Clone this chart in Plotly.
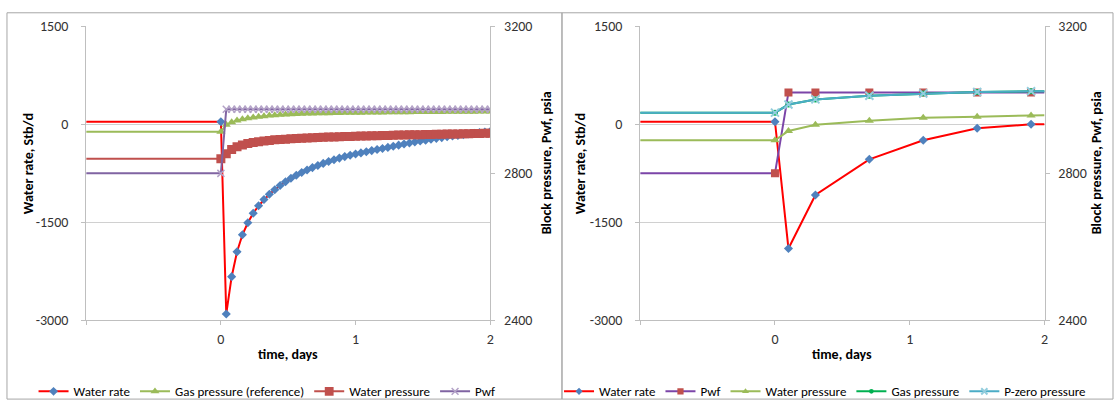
import plotly.graph_objects as go

# ---------------- left panel: fine time steps ----------------
t_left = [-1, 0.00, 0.04, 0.08, 0.12, 0.16, 0.20, 0.24, 0.28, 0.32, 0.36, 0.40,
          0.44, 0.48, 0.52, 0.56, 0.60, 0.64, 0.68, 0.72, 0.76, 0.80, 0.84,
          0.88, 0.92, 0.96, 1.00, 1.04, 1.08, 1.12, 1.16, 1.20, 1.24, 1.28,
          1.32, 1.36, 1.40, 1.44, 1.48, 1.52, 1.56, 1.60, 1.64, 1.68, 1.72,
          1.76, 1.80, 1.84, 1.88, 1.92, 1.96, 2.00]

water_rate_left = [40, 40, -2900, -2330, -1950, -1690, -1505, -1360, -1245, -1150,
                   -1070, -1000, -935, -878, -826, -779, -737, -698, -662, -629,
                   -598, -569, -542, -517, -494, -474, -455, -437, -419, -402,
                   -386, -370, -353, -336, -319, -302, -286, -271, -256, -242,
                   -228, -215, -203, -191, -180, -169, -158, -148, -138, -128,
                   -119, -110]

gas_ref_left = [2913, 2913, 2932, 2939, 2944, 2947, 2950, 2952, 2954, 2955.5,
                2957, 2958, 2959, 2960, 2960.8, 2961.5, 2962, 2962.4, 2962.8,
                2963.1, 2963.4, 2963.7, 2964, 2964.2, 2964.4, 2964.6, 2964.8,
                2965, 2965.2, 2965.4, 2965.5, 2965.7, 2965.8, 2966, 2966.1,
                2966.3, 2966.4, 2966.5, 2966.6, 2966.8, 2966.9, 2967, 2967.1,
                2967.2, 2967.3, 2967.4, 2967.5, 2967.6, 2967.7, 2967.8, 2967.9,
                2968]

water_p_left = [2840, 2840, 2853, 2865, 2872, 2877, 2881, 2884, 2886, 2888,
                2889.5, 2891, 2892, 2893, 2894, 2894.8, 2895.5, 2896.2, 2896.8,
                2897.4, 2898, 2898.5, 2899, 2899.5, 2900, 2900.4, 2900.8,
                2901.2, 2901.6, 2902, 2902.4, 2902.8, 2903.2, 2903.6, 2904,
                2904.3, 2904.6, 2904.9, 2905.2, 2905.5, 2905.8, 2906.1, 2906.4,
                2906.7, 2907, 2907.3, 2907.6, 2907.9, 2908.2, 2908.5, 2908.8,
                2909]

pwf_left = [2800, 2800] + [2974] * 50

# ---------------- right panel: coarse time steps ----------------
t_right = [-1, 0, 0.1, 0.3, 0.7, 1.1, 1.5, 1.9, 2.0]
water_rate_right = [40, 40, -1900, -1080, -535, -245, -60, 0, 0]
pwf_right = [2800, 2800, 3020, 3020, 3020, 3020, 3020, 3020, 3020]
water_p_right = [2890, 2890, 2915, 2932, 2943, 2951, 2954, 2957, 2958]
gas_p_right = [2965, 2965, 2987, 3001, 3011, 3017, 3021, 3023, 3023]
pzero_right = [2965, 2965, 2987, 3001, 3011, 3017, 3021, 3023, 3023]

# tick labels
rate_ticks = [-3000, -1500, 0, 1500]
rate_labels = ["-3000", "-1500", "0", "1500"]
press_ticks = [2400, 2800, 3200]
time_ticks = [-1, 0, 1, 2]
time_labels = ["", "0", "1", "2"]

FONT = "Carlito, Calibri, Lato, sans-serif"
W, H = 1117, 410


def px_x(v):
    return v / W


def px_y(v):
    return (H - v) / H


def sizes(n, s, last_hidden=False):
    # the first point (and optionally the last) only carries the line
    out = [s] * n
    out[0] = 0
    if last_hidden:
        out[-1] = 0
    return out


def solid(symbol, color, size):
    return dict(symbol=symbol, color=color, size=size, opacity=1,
                line=dict(width=0))


def cross(color, size, width):
    return dict(symbol="x-thin", color=color, size=size, opacity=1,
                line=dict(color=color, width=width))


fig = go.Figure()

# left panel traces
nL = len(t_left)
fig.add_trace(go.Scatter(
    x=t_left, y=water_rate_left, name="Water rate", mode="lines+markers",
    line=dict(color="#FF0000", width=2),
    marker=solid("diamond", "#4F81BD", sizes(nL, 7)),
    xaxis="x", yaxis="y", legend="legend"))
fig.add_trace(go.Scatter(
    x=t_left, y=gas_ref_left, name="Gas pressure (reference)", mode="lines+markers",
    line=dict(color="#9BBB59", width=2),
    marker=solid("triangle-up", "#9BBB59", sizes(nL, 8)),
    xaxis="x", yaxis="y2", legend="legend"))
fig.add_trace(go.Scatter(
    x=t_left, y=water_p_left, name="Water pressure", mode="lines+markers",
    line=dict(color="#C0504D", width=2),
    marker=solid("square", "#C0504D", sizes(nL, 9)),
    xaxis="x", yaxis="y2", legend="legend"))
fig.add_trace(go.Scatter(
    x=t_left, y=pwf_left, name="Pwf", mode="lines+markers",
    line=dict(color="#8064A2", width=2),
    marker=cross("#B3A2C7", sizes(nL, 7), 1.5),
    xaxis="x", yaxis="y2", legend="legend"))

# right panel traces
nR = len(t_right)
fig.add_trace(go.Scatter(
    x=t_right, y=water_rate_right, name="Water rate", mode="lines+markers",
    line=dict(color="#FF0000", width=2),
    marker=solid("diamond", "#4F81BD", sizes(nR, 7, last_hidden=True)),
    xaxis="x2", yaxis="y3", legend="legend2"))
fig.add_trace(go.Scatter(
    x=t_right, y=pwf_right, name="Pwf", mode="lines+markers",
    line=dict(color="#7B45A8", width=2),
    marker=solid("square", "#C0504D", sizes(nR, 8, last_hidden=True)),
    xaxis="x2", yaxis="y4", legend="legend2"))
fig.add_trace(go.Scatter(
    x=t_right, y=water_p_right, name="Water pressure", mode="lines+markers",
    line=dict(color="#9BBB59", width=2),
    marker=solid("triangle-up", "#9BBB59", sizes(nR, 8, last_hidden=True)),
    xaxis="x2", yaxis="y4", legend="legend2"))
fig.add_trace(go.Scatter(
    x=t_right, y=gas_p_right, name="Gas pressure", mode="lines+markers",
    line=dict(color="#00B050", width=2),
    marker=solid("circle", "#00B050", sizes(nR, 6, last_hidden=True)),
    xaxis="x2", yaxis="y4", legend="legend2"))
fig.add_trace(go.Scatter(
    x=t_right, y=pzero_right, name="P-zero pressure", mode="lines+markers",
    line=dict(color="#4BACC6", width=2),
    marker=cross("#93CDDD", sizes(nR, 8, last_hidden=True), 2),
    xaxis="x2", yaxis="y4", legend="legend2"))

AX = "#BFBFBF"
GRID = "#D0D0D0"
TICKF = dict(family=FONT, size=14, color="#333333")

x_common = dict(range=[-1, 2], tickvals=time_ticks, ticktext=time_labels,
                showgrid=False, zeroline=False, showline=True, linecolor=AX,
                ticks="outside", ticklen=4, tickcolor=AX, tickfont=TICKF,
                ticklabelstandoff=2)
yl_common = dict(range=[-3000, 1500], tickvals=rate_ticks, ticktext=rate_labels,
                 showgrid=True, gridcolor=GRID, zeroline=False, showline=True,
                 linecolor=AX, ticks="outside", ticklen=4, tickcolor=AX,
                 tickfont=TICKF, ticklabelstandoff=10)
yr_common = dict(range=[2400, 3200], tickvals=press_ticks, showgrid=False,
                 zeroline=False, showline=True, linecolor=AX, ticks="outside",
                 ticklen=4, tickcolor=AX, tickfont=TICKF, side="right",
                 ticklabelstandoff=6)

LEGF = dict(family=FONT, size=13, color="#000000")
ydom = [px_y(326), px_y(19)]
fig.update_layout(
    width=W, height=H, margin=dict(l=0, r=0, t=0, b=0),
    paper_bgcolor="white", plot_bgcolor="white",
    font=dict(family=FONT, size=12, color="#000000"),
    xaxis=dict(domain=[px_x(86.5), px_x(492)], anchor="y", **x_common),
    yaxis=dict(domain=ydom, anchor="x", **yl_common),
    yaxis2=dict(overlaying="y", anchor="x", **yr_common),
    xaxis2=dict(domain=[px_x(642.5), px_x(1048.3)], anchor="y3", **x_common),
    yaxis3=dict(domain=ydom, anchor="x2", **yl_common),
    yaxis4=dict(overlaying="y3", anchor="x2", **yr_common),
    legend=dict(orientation="h", x=px_x(268), xanchor="center", y=px_y(400),
                yanchor="middle", font=LEGF, itemwidth=30,
                bgcolor="rgba(0,0,0,0)"),
    legend2=dict(orientation="h", x=px_x(828), xanchor="center", y=px_y(400),
                 yanchor="middle", font=LEGF, itemwidth=30,
                 bgcolor="rgba(0,0,0,0)"),
    showlegend=True,
)

# panel frames
for x0, x1 in [(7, 564), (564, 1117)]:
    fig.add_shape(type="rect", xref="paper", yref="paper",
                  x0=px_x(x0), x1=px_x(x1), y0=px_y(408), y1=px_y(5),
                  line=dict(color="#A6A6A6", width=1), fillcolor="rgba(0,0,0,0)",
                  layer="below")

title_font = dict(family=FONT, size=14, color="#000000")
ymid = px_y(162)
for xpos, txt in [(28, "Water rate, Stb/d"), (548, "Block pressure, Pwf, psia"),
                  (582, "Water rate, Stb/d"), (1100, "Block pressure, Pwf, psia")]:
    fig.add_annotation(x=px_x(xpos), y=ymid, xref="paper", yref="paper",
                       text=f"<b>{txt}</b>", textangle=-90, showarrow=False,
                       font=title_font, xanchor="center", yanchor="middle")
for xpos in [289, 845]:
    fig.add_annotation(x=px_x(xpos), y=px_y(362), xref="paper", yref="paper",
                       text="<b>time, days</b>", showarrow=False, font=title_font,
                       xanchor="center", yanchor="middle")

fig.write_html("out.html")
